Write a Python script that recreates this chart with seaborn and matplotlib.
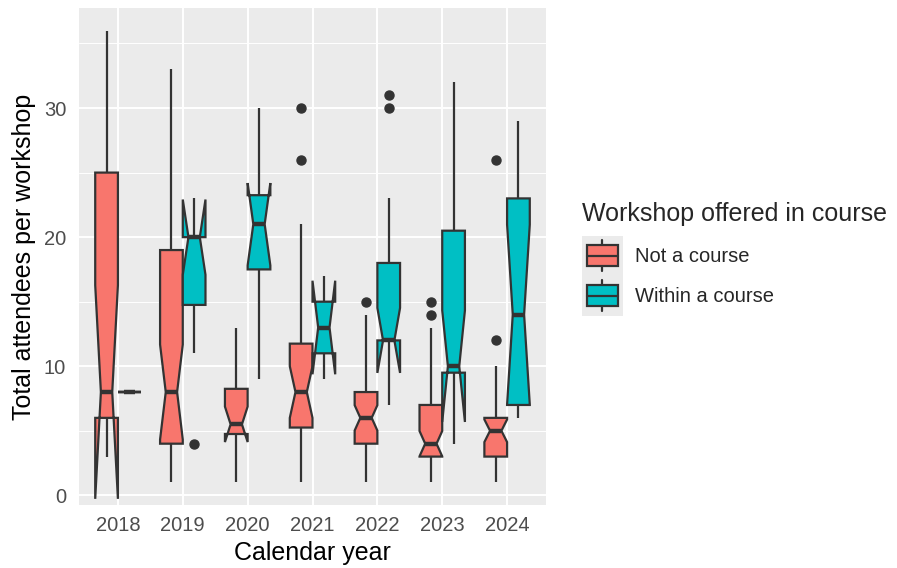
import matplotlib
matplotlib.use("Agg")
import matplotlib.pyplot as plt
import matplotlib.patches as mpatches
from matplotlib.lines import Line2D
from matplotlib.legend_handler import HandlerBase
from matplotlib.ticker import MultipleLocator
import pandas as pd
import seaborn as sns


YEARS = ["2018", "2019", "2020", "2021", "2022", "2023", "2024"]
GROUPS = ["Not a course", "Within a course"]
COLOURS = ["#F8766D", "#00BFC4"]

# attendees per workshop, one list per calendar year
not_course = [
    [3, 4, 5, 6, 7, 8, 8, 10, 20, 25, 28, 32, 36],
    [1, 1, 2, 2, 3, 3, 3, 4, 4, 4, 4, 5, 5, 5, 6, 6, 7, 7, 7, 8, 8,
     9, 10, 11, 12, 13, 14, 15, 16, 18, 19, 20, 21, 22, 23, 24, 25, 26, 28, 30, 33],
    [1, 2, 3, 4, 5, 5, 5, 5, 6, 7, 8, 8, 9, 10, 12, 13],
    [1, 2, 3, 3, 4, 5, 5, 6, 6, 7, 7, 8, 8, 8, 9, 10, 10, 11, 11, 12, 13,
     15, 18, 21, 26, 30],
    [1, 2, 2, 3, 3, 3, 3, 4, 4, 4, 4, 4, 5, 5, 5, 5, 5, 5, 6, 6, 6,
     6, 6, 6, 7, 7, 7, 7, 7, 8, 8, 8, 8, 9, 9, 10, 11, 12, 13, 14, 15],
    [1, 1, 2, 2, 2, 3, 3, 3, 3, 3, 3, 3, 3, 3, 4, 4, 4, 4, 4, 4, 4,
     5, 5, 5, 5, 6, 6, 6, 6, 7, 7, 7, 7, 8, 8, 9, 10, 11, 13, 14, 15],
    [1, 2, 2, 3, 3, 3, 3, 3, 4, 4, 4, 4, 5, 5, 5, 5, 5, 5, 6, 6, 6, 6,
     7, 8, 8, 9, 10, 12, 26],
]
within_course = [
    [8, 8, 8],
    [4, 11, 16, 20, 20, 20, 20, 23],
    [9, 16, 18, 21, 21, 23, 24, 30],
    [9, 13, 17],
    [7, 9, 11, 12, 12, 12, 12, 12, 15, 18, 18, 23, 30, 31],
    [4, 5, 7, 8, 10, 10, 10, 10, 10, 12, 15, 20, 22, 25, 28, 32],
    [6, 6, 7, 7, 10, 12, 14, 15, 20, 23, 25, 27, 29],
]

LINE = "#333333"
LW = 1.6


class BoxKeyHandler(HandlerBase):
    # ggplot-like legend key: grey square with a little boxplot in it
    def create_artists(self, legend, orig_handle, xdescent, ydescent,
                       width, height, fontsize, trans):
        x0, y0 = -xdescent, -ydescent
        bg = mpatches.Rectangle((x0, y0), width, height, facecolor="#EBEBEB",
                                edgecolor="none", transform=trans)
        bx, bw = x0 + 0.12 * width, 0.76 * width
        by, bh = y0 + 0.24 * height, 0.52 * height
        box = mpatches.Rectangle((bx, by), bw, bh, facecolor=orig_handle.get_facecolor(),
                                 edgecolor=LINE, lw=LW, transform=trans)
        cx = x0 + width / 2
        med = Line2D([bx, bx + bw], [by + bh / 2] * 2, color=LINE, lw=LW, transform=trans)
        w_lo = Line2D([cx, cx], [y0 + 0.11 * height, by], color=LINE, lw=LW, transform=trans)
        w_hi = Line2D([cx, cx], [by + bh, y0 + 0.89 * height], color=LINE, lw=LW, transform=trans)
        return [bg, w_lo, w_hi, box, med]


rows = []
for year, a, b in zip(YEARS, not_course, within_course):
    rows += [(year, GROUPS[0], v) for v in a]
    rows += [(year, GROUPS[1], v) for v in b]
df = pd.DataFrame(rows, columns=["year", "course", "attendees"])

sns.set_theme(style="darkgrid")
plt.rcParams["font.family"] = ["Liberation Sans", "DejaVu Sans"]

fig = plt.figure(figsize=(8.97, 5.68), dpi=100)
ax = fig.add_axes([79 / 897, 63 / 568, 467 / 897, 497 / 568])
ax.set_facecolor("#EBEBEB")

sns.boxplot(data=df, x="year", y="attendees", hue="course", order=YEARS,
            hue_order=GROUPS, palette=COLOURS, saturation=1, width=0.7, gap=0,
            dodge=True, whis=1.5, linecolor=LINE, linewidth=LW, fliersize=6.5,
            notch=True, showcaps=False,
            medianprops=dict(linewidth=2 * LW, color=LINE),
            flierprops=dict(marker="o", markerfacecolor=LINE, markeredgecolor=LINE),
            legend=False, ax=ax)

ax.set_xlim(-0.6, 6.6)
ax.set_ylim(-0.75, 37.75)
ax.yaxis.set_major_locator(MultipleLocator(10))
ax.yaxis.set_minor_locator(MultipleLocator(5))
ax.grid(which="major", color="white", lw=1.4)
ax.grid(which="minor", axis="y", color="white", lw=0.7)
ax.set_axisbelow(True)
for s in ax.spines.values():
    s.set_visible(False)
ax.tick_params(which="major", length=4.2, width=1.1, color=LINE,
               labelsize=14.5, labelcolor="#4D4D4D")
ax.tick_params(axis="x", pad=4)
ax.tick_params(axis="y", pad=5)
ax.tick_params(which="minor", length=0)
ax.set_xlabel("Calendar year", fontsize=18, color="black", labelpad=4)
ax.set_ylabel("Total attendees per workshop", fontsize=18, color="black", labelpad=6)

handles = [mpatches.Patch(facecolor=c, label=g) for c, g in zip(COLOURS, GROUPS)]
leg = fig.legend(handles=handles, title="Workshop offered in course", loc="upper left",
                 bbox_to_anchor=(582 / 897, 1 - 202 / 568), frameon=False,
                 fontsize=14.5, title_fontsize=18, alignment="left",
                 handler_map={mpatches.Patch: BoxKeyHandler()},
                 handlelength=2.03, handleheight=2.68, labelspacing=0,
                 handletextpad=0.58, borderpad=0, borderaxespad=0)
leg._legend_box.sep = 7

fig.savefig("out.png", dpi=100)
